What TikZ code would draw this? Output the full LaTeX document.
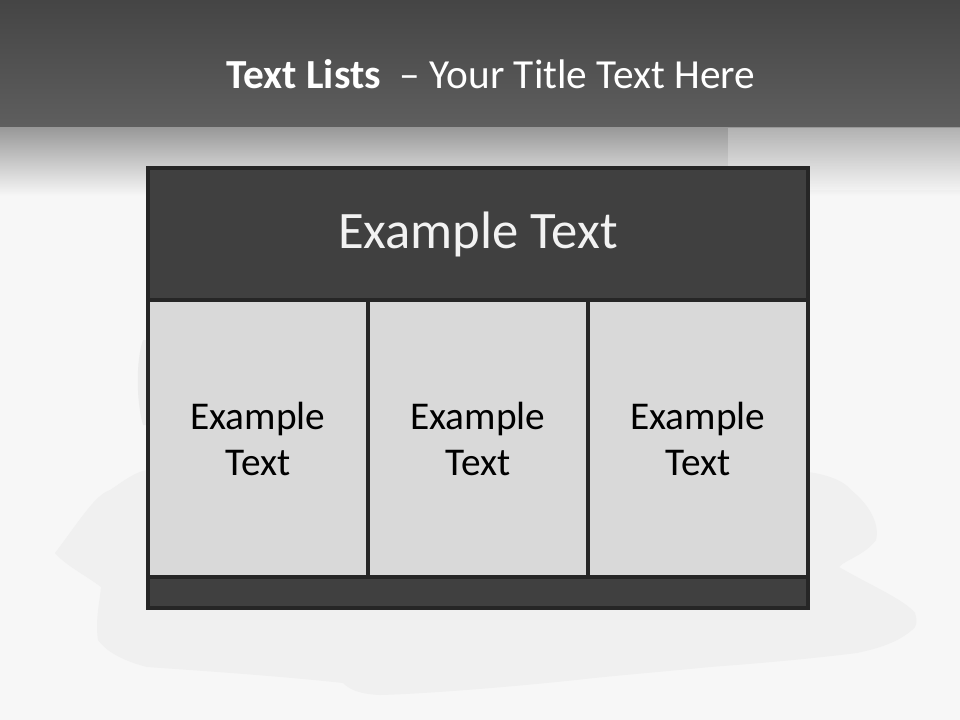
\documentclass[tikz,border=0pt]{standalone}
\usepackage{fontspec}
\setmainfont{Carlito}
\begin{document}
\begin{tikzpicture}[x=0.75pt,y=-0.75pt,
  dark/.style={draw=black!85,line width=2.6pt,fill=black!75,inner sep=0pt},
  cell/.style={draw=black!85,line width=2.6pt,fill=black!15,inner sep=0pt,minimum width=165pt,minimum height=207.75pt,align=center,font=\fontsize{29.5}{34.5}\selectfont,text=black}]
\useasboundingbox (0,0) rectangle (960,720);
\fill[black!3] (0,0) rectangle (960,720);
\shade[top color=black!73,bottom color=black!63] (0,0) rectangle (960,128);
\shade[top color=black!40,bottom color=black!3] (0,128) rectangle (960,196);
\fill[white,opacity=0.25] (728,128) rectangle (960,190);
\fill[black!6] (55,553) .. controls (80,520) and (95,495) .. (110,490)
  .. controls (125,480) and (135,472) .. (147,470) -- (808,472)
  .. controls (830,475) and (845,482) .. (851,490)
  .. controls (870,505) and (880,525) .. (876,540)
  .. controls (865,555) and (845,560) .. (839,567)
  .. controls (870,585) and (905,600) .. (915,613)
  .. controls (918,622) and (916,628) .. (912,630)
  .. controls (895,645) and (870,650) .. (857,653)
  .. controls (800,660) and (750,664) .. (710,667)
  .. controls (660,672) and (610,676) .. (576,680)
  .. controls (500,688) and (420,694) .. (380,695)
  .. controls (360,694) and (350,690) .. (343,683)
  .. controls (280,676) and (190,670) .. (147,667)
  .. controls (120,660) and (105,650) .. (98,640)
  .. controls (95,620) and (100,600) .. (101,587)
  .. controls (85,575) and (65,565) .. (55,553) -- cycle;
\fill[black!10,opacity=0.6] (143,340) .. controls (136,360) and (136,400) .. (143,425) -- (150,425) -- (150,340) -- cycle;
\node[text=white,font=\fontsize{31}{37}\selectfont,anchor=base] (title) at (491,89) {\textbf{Text Lists}\ \ – Your Title Text Here};
\node[dark,minimum width=495pt,minimum height=99pt,text=black!5,font=\fontsize{39.5}{46}\selectfont] (head) at (478,234) {Example Text};
\node[cell] (c1) at (258,438.5) {Example\\Text};
\node[cell] (c2) at (478,438.5) {Example\\Text};
\node[cell] (c3) at (698,438.5) {Example\\Text};
\node[dark,minimum width=495pt,minimum height=23.25pt] (foot) at (478,592.5) {};
\end{tikzpicture}
\end{document}
